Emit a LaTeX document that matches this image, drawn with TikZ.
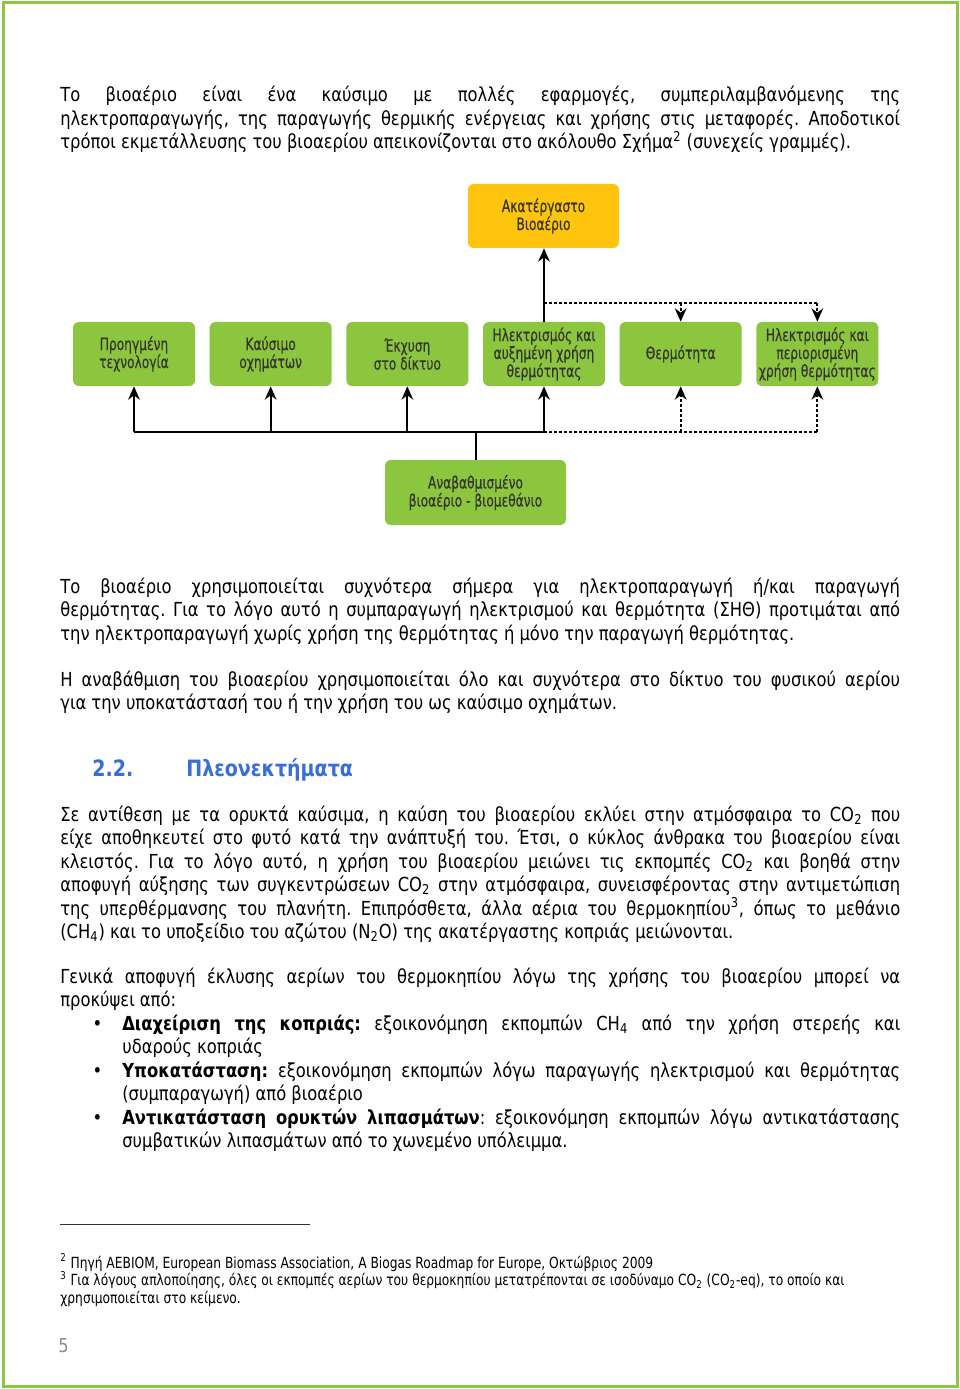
\documentclass[tikz,border=0pt]{standalone}
\usepackage{fontspec}
\setmainfont[FakeStretch=0.94]{DejaVu Sans Condensed}
\newfontfamily\diafont[FakeStretch=0.8, FakeBold=0.3]{DejaVu Sans Condensed}
\newfontfamily\notefont[FakeStretch=0.89]{DejaVu Sans Condensed}
\usetikzlibrary{arrows.meta}
\usetikzlibrary{positioning}
\frenchspacing

\definecolor{pagegreen}{RGB}{141,198,63}
\definecolor{boxgreen}{RGB}{140,198,63}
\definecolor{boxyellow}{RGB}{255,196,14}
\definecolor{boxtext}{RGB}{52,52,46}
\definecolor{headblue}{RGB}{56,110,216}

% one justified line / one last (ragged) line
\newcommand{\jline}[1]{\hbox to\hsize{\spaceskip=\fontdimen2\font plus 1fil minus \fontdimen4\font\relax #1}}
\newcommand{\lline}[1]{\hbox{#1}}
\newcommand{\textblock}[2]{\vtop{\hsize=#1\lineskiplimit=-\maxdimen #2}}
\newcommand{\sub}[1]{\textsubscript{#1}}

\tikzset{
  bodytext/.style={anchor=base west, inner sep=0pt,
    font=\fontsize{11.6}{14.1}\selectfont},
  usebox/.style={rectangle, rounded corners=3.5pt, fill=boxgreen,
    minimum width=73.2pt, minimum height=38.4pt, inner sep=0pt, align=center,
    text=boxtext, font=\diafont\fontsize{10.2}{10.8}\selectfont},
  rawbox/.style={usebox, fill=boxyellow, minimum width=90.6pt},
  upbox/.style={usebox, minimum width=108.6pt, minimum height=39pt},
  link/.style={line width=1.2pt},
  dotlink/.style={link, dash pattern=on 1.8pt off 1.2pt},
  flow/.style={link, -{Stealth[length=8pt,width=7pt]}},
  dotflow/.style={dotlink, -{Stealth[length=8pt,width=7pt]}},
}

\begin{document}
\begin{tikzpicture}[x=0.6pt, y=-0.6pt]
\useasboundingbox (0,0) rectangle (960,1389);
\draw[pagegreen, line width=1.8pt] (3,3) rectangle (957,1386);

% text above the figure
\node[bodytext] (par1) at (60,102) {\textblock{504pt}{%
\jline{Το βιοαέριο είναι ένα καύσιμο με πολλές εφαρμογές, συμπεριλαμβανόμενης της}
\jline{ηλεκτροπαραγωγής, της παραγωγής θερμικής ενέργειας και χρήσης στις μεταφορές. Αποδοτικοί}
\lline{τρόποι εκμετάλλευσης του βιοαερίου απεικονίζονται στο ακόλουθο Σχήμα\textsuperscript{2} (συνεχείς γραμμές).}}};

% the figure
\node[rawbox] (raw) at (543.5,216) {Ακατέργαστο\\Βιοαέριο};
\node[usebox] (tech) at (134,354) {Προηγμένη\\τεχνολογία};
\node[usebox, right=8.4pt of tech] (fuel) {Καύσιμο\\οχημάτων};
\node[usebox, right=8.4pt of fuel] (grid) {Έκχυση\\στο δίκτυο};
\node[usebox, right=8.4pt of grid] (elheat) {Ηλεκτρισμός και\\αυξημένη χρήση\\θερμότητας};
\node[usebox, right=8.4pt of elheat] (heat) {Θερμότητα};
\node[usebox, right=8.4pt of heat] (elpart) {Ηλεκτρισμός και\\περιορισμένη\\χρήση θερμότητας};
\node[upbox] (up) at (475.5,492.5) {Αναβαθμισμένο\\βιοαέριο - βιομεθάνιο};

\coordinate (split) at (up.north |- 0,432);
\coordinate (tap) at (elheat.north |- 0,303);
\draw[link] (up.north) -- (split);
\draw[link] (split -| tech.south) -- (split -| elheat.south);
\draw[dotlink] (split -| elheat.south) -- (split -| elpart.south);
\foreach \n in {tech,fuel,grid,elheat}
  \draw[flow] (split -| \n.south) -- (\n.south);
\foreach \n in {heat,elpart}
  \draw[dotflow] (split -| \n.south) -- (\n.south);
\draw[flow] (elheat.north) -- (elheat.north |- raw.south);
\draw[dotlink] (tap) -- (tap -| elpart.north);
\foreach \n in {heat,elpart}
  \draw[dotflow] (tap -| \n.north) -- (\n.north);

% text below the figure
\node[bodytext] (par2) at (60,593) {\textblock{504pt}{%
\jline{Το βιοαέριο χρησιμοποιείται συχνότερα σήμερα για ηλεκτροπαραγωγή ή/και παραγωγή}
\jline{θερμότητας. Για το λόγο αυτό η συμπαραγωγή ηλεκτρισμού και θερμότητα (ΣΗΘ) προτιμάται από}
\lline{την ηλεκτροπαραγωγή χωρίς χρήση της θερμότητας ή μόνο την παραγωγή θερμότητας.}}};

\node[bodytext] (par3) at (60,686) {\textblock{504pt}{%
\jline{Η αναβάθμιση του βιοαερίου χρησιμοποιείται όλο και συχνότερα στο δίκτυο του φυσικού αερίου}
\lline{για την υποκατάστασή του ή την χρήση του ως καύσιμο οχημάτων.}}};

\node[anchor=base west, inner sep=0pt, text=headblue,
  font=\bfseries\fontsize{13.5}{16}\selectfont] (hnum) at (92,776) {2.2.};
\node[anchor=base west, inner sep=0pt, text=headblue,
  font=\bfseries\fontsize{13.5}{16}\selectfont] (htitle) at (186,776) {Πλεονεκτήματα};

\node[bodytext] (par4) at (60,821) {\textblock{504pt}{%
\jline{Σε αντίθεση με τα ορυκτά καύσιμα, η καύση του βιοαερίου εκλύει στην ατμόσφαιρα το CO\sub{2} που}
\jline{είχε αποθηκευτεί στο φυτό κατά την ανάπτυξή του. Έτσι, ο κύκλος άνθρακα του βιοαερίου είναι}
\jline{κλειστός. Για το λόγο αυτό, η χρήση του βιοαερίου μειώνει τις εκπομπές CO\sub{2} και βοηθά στην}
\jline{αποφυγή αύξησης των συγκεντρώσεων CO\sub{2} στην ατμόσφαιρα, συνεισφέροντας στην αντιμετώπιση}
\jline{της υπερθέρμανσης του πλανήτη. Επιπρόσθετα, άλλα αέρια του θερμοκηπίου\textsuperscript{3}, όπως το μεθάνιο}
\lline{(CH\sub{4}) και το υποξείδιο του αζώτου (N\sub{2}O) της ακατέργαστης κοπριάς μειώνονται.}}};

\node[bodytext] (par5) at (60,983) {\textblock{504pt}{%
\jline{Γενικά αποφυγή έκλυσης αερίων του θερμοκηπίου λόγω της χρήσης του βιοαερίου μπορεί να}
\lline{προκύψει από:}}};

\node[bodytext] (list) at (122,1030) {\textblock{466.8pt}{%
\jline{\llap{•\hskip 12pt}\textbf{Διαχείριση της κοπριάς:} εξοικονόμηση εκπομπών CH\sub{4} από την χρήση στερεής και}
\lline{υδαρούς κοπριάς}
\jline{\llap{•\hskip 12pt}\textbf{Υποκατάσταση:} εξοικονόμηση εκπομπών λόγω παραγωγής ηλεκτρισμού και θερμότητας}
\lline{(συμπαραγωγή) από βιοαέριο}
\jline{\llap{•\hskip 12pt}\textbf{Αντικατάσταση ορυκτών λιπασμάτων}: εξοικονόμηση εκπομπών λόγω αντικατάστασης}
\lline{συμβατικών λιπασμάτων από το χωνεμένο υπόλειμμα.}}};

% footnotes
\draw[line width=0.6pt, black!80] (60,1224) -- (310,1224);
\node[bodytext, font=\notefont\fontsize{9.2}{10.5}\selectfont] (notes) at (60,1268) {\textblock{504pt}{%
\lline{\textsuperscript{2} Πηγή AEBIOM, European Biomass Association, A Biogas Roadmap for Europe, Οκτώβριος 2009}
\lline{\textsuperscript{3} Για λόγους απλοποίησης, όλες οι εκπομπές αερίων του θερμοκηπίου μετατρέπονται σε ισοδύναμο CO\sub{2} (CO\sub{2}-eq), το οποίο και}
\lline{χρησιμοποιείται στο κείμενο.}}};

\node[anchor=base west, inner sep=0pt, text=black!45,
  font=\fontsize{11.5}{14}\selectfont] (pageno) at (58,1352) {5};
\end{tikzpicture}
\end{document}
